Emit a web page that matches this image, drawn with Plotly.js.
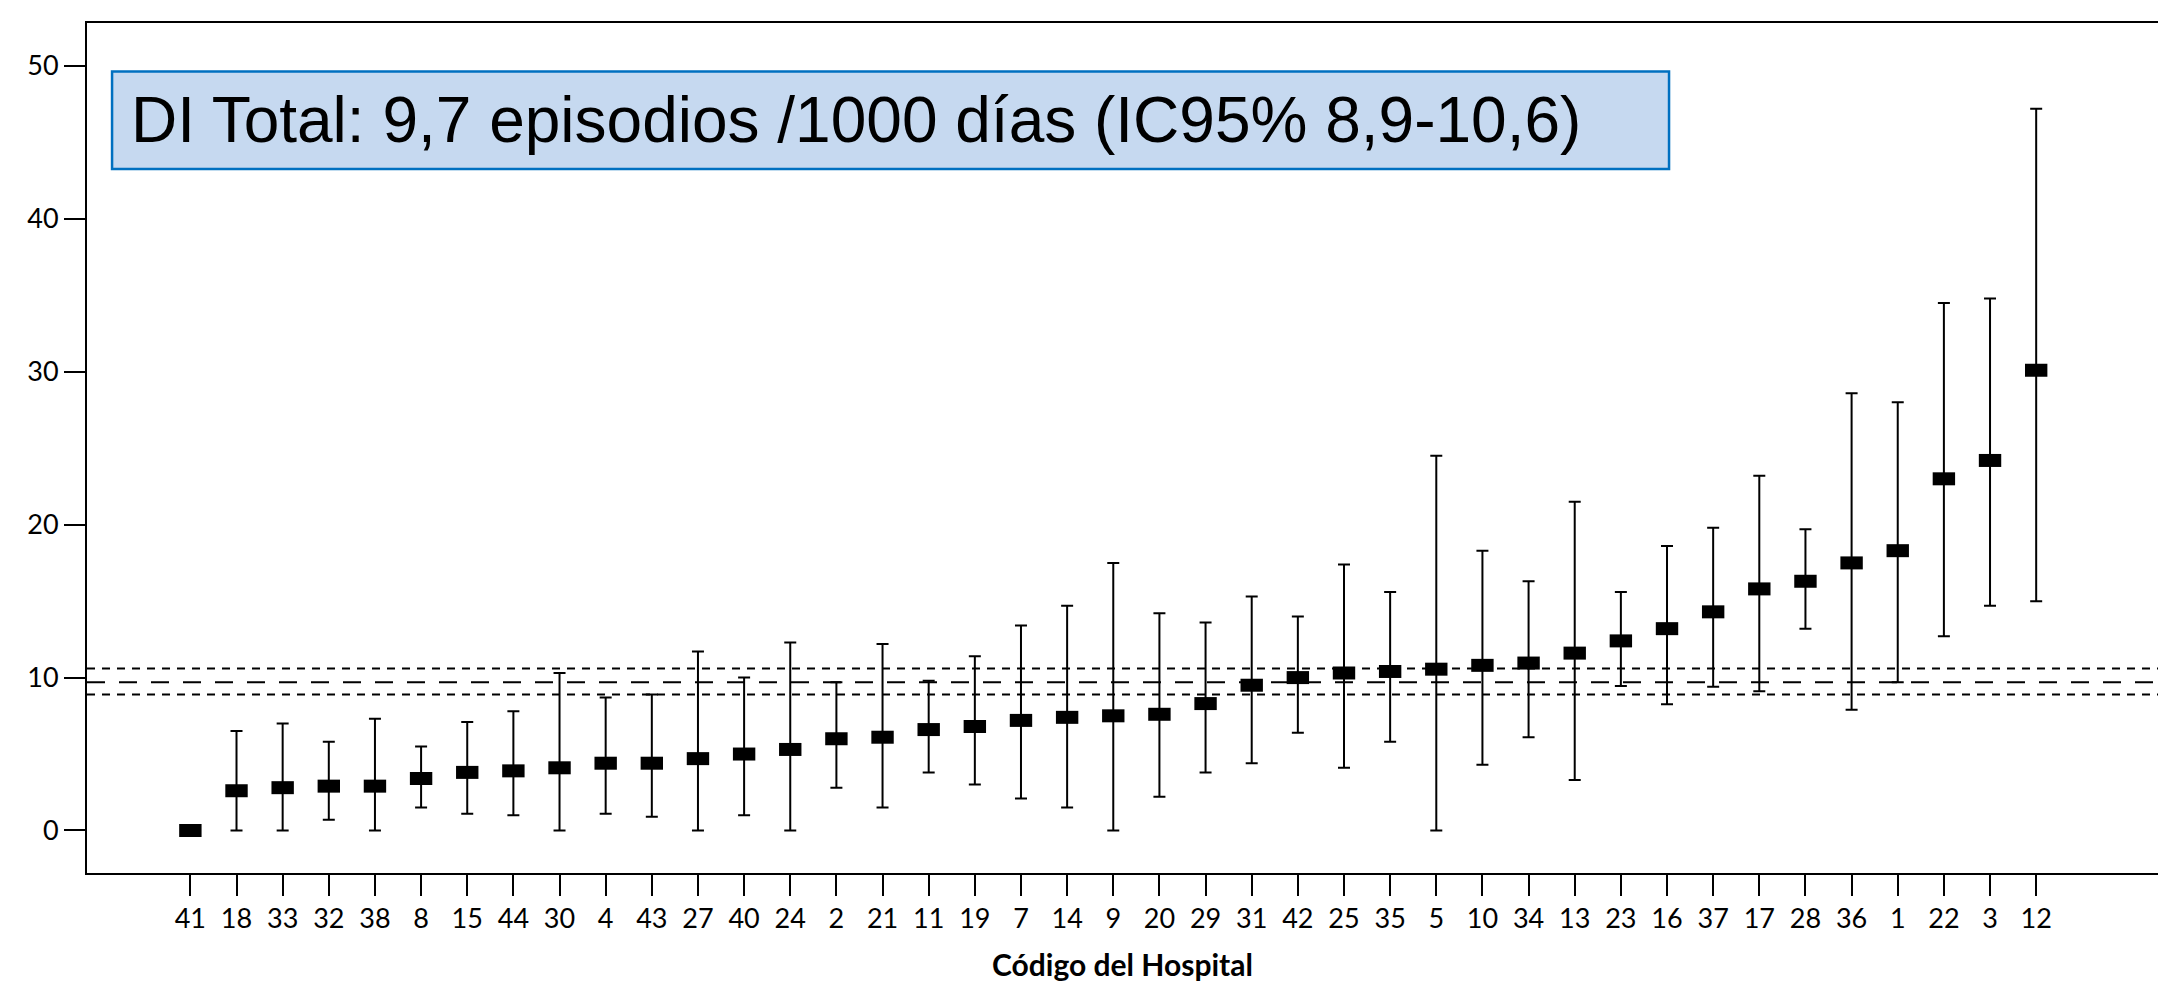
<!DOCTYPE html>
<html>
<head>
<meta charset="utf-8">
<script src="https://cdn.plot.ly/plotly-3.0.1.min.js"></script>
<style>
  html, body { margin: 0; padding: 0; background: #ffffff; }
  #chart { width: 2158px; height: 982px; }
</style>
</head>
<body>
<div id="chart"></div>
<script>
// Hospital codes (x categories), ordered as in the chart
const hospitals = ['41','18','33','32','38','8','15','44','30','4','43','27','40','24','2','21','11','19','7','14','9','20','29','31','42','25','35','5','10','34','13','23','16','37','17','28','36','1','22','3','12'];
// Incidence density (episodes / 1000 days) per hospital
const rate  = [0, 2.6, 2.8, 2.9, 2.9, 3.4, 3.8, 3.9, 4.1, 4.4, 4.4, 4.7, 5.0, 5.3, 6.0, 6.1, 6.6, 6.8, 7.2, 7.4, 7.5, 7.6, 8.3, 9.5, 10.0, 10.3, 10.4, 10.55, 10.8, 10.95, 11.6, 12.4, 13.2, 14.3, 15.8, 16.3, 17.5, 18.3, 23.0, 24.2, 30.1];
// 95% CI lower / upper limits
const lower = [0, 0, 0, 0.7, 0, 1.5, 1.1, 1.0, 0, 1.1, 0.9, 0, 1.0, 0, 2.8, 1.5, 3.8, 3.0, 2.1, 1.5, 0, 2.2, 3.8, 4.4, 6.4, 4.1, 5.8, 0, 4.3, 6.1, 3.3, 9.45, 8.25, 9.4, 9.1, 13.2, 7.9, 9.7, 12.7, 14.7, 15.0];
const upper = [0, 6.5, 7.0, 5.8, 7.3, 5.5, 7.1, 7.8, 10.3, 8.7, 8.9, 11.7, 10.0, 12.3, 9.7, 12.2, 9.8, 11.4, 13.4, 14.7, 17.5, 14.2, 13.6, 15.3, 14.0, 17.4, 15.6, 24.5, 18.3, 16.3, 21.5, 15.6, 18.6, 19.8, 23.2, 19.7, 28.6, 28.0, 34.5, 34.8, 47.2];
// Overall DI and its 95% CI
const totalRate = 9.7;
const totalCI = [8.9, 10.6];
const yTicks = [0, 10, 20, 30, 40, 50];
const boxText = 'DI Total: 9,7 episodios /1000 días (IC95% 8,9-10,6)';
const xTitle = 'Código del Hospital';

const errPlus  = upper.map((u, i) => u - rate[i]);
const errMinus = rate.map((r, i) => r - lower[i]);

const trace = {
  type: 'scatter',
  mode: 'markers',
  x: hospitals,
  y: rate,
  marker: { symbol: 'line-ew', size: 16, color: '#000000', line: { width: 13, color: '#000000' } },
  error_y: {
    type: 'data', symmetric: false,
    array: errPlus, arrayminus: errMinus,
    color: '#000000', thickness: 2, width: 6
  },
  hoverinfo: 'x+y',
  showlegend: false
};

const refLine = (y, dash) => ({
  type: 'line', xref: 'paper', x0: 0, x1: 1, yref: 'y', y0: y, y1: y,
  line: { color: '#000000', width: 2, dash: dash }, layer: 'below'
});

const layout = {
  width: 2158, height: 982,
  margin: { l: 87, r: 0, t: 23, b: 109, pad: 0 },
  paper_bgcolor: '#ffffff', plot_bgcolor: '#ffffff',
  showlegend: false,
  xaxis: {
    type: 'category',
    range: [-2.24, 42.64],
    showline: true, linecolor: '#000000', linewidth: 2, mirror: true,
    ticks: 'outside', ticklen: 21, tickwidth: 2, tickcolor: '#000000',
    showgrid: false, zeroline: false,
    tickfont: { family: 'Lato, sans-serif', size: 27, color: '#000000' },
    title: { text: xTitle, standoff: 22, font: { family: 'Lato, sans-serif', size: 30, color: '#000000', weight: 'bold' } },
    automargin: false
  },
  yaxis: {
    range: [-2.78, 52.81],
    tickvals: yTicks,
    ticktext: yTicks.map(String),
    showline: true, linecolor: '#000000', linewidth: 2, mirror: false,
    ticks: 'outside', ticklen: 21, tickwidth: 2, tickcolor: '#000000',
    showgrid: false, zeroline: false,
    tickfont: { family: 'Lato, sans-serif', size: 27, color: '#000000' },
    automargin: false
  },
  shapes: [
    refLine(totalCI[1], '8px,7px'),
    refLine(totalRate, '18px,14px'),
    refLine(totalCI[0], '8px,7px'),
    {
      type: 'rect', xref: 'paper', yref: 'paper',
      x0: 0.0121, x1: 0.7639, y0: 0.8282, y1: 0.9428,
      fillcolor: '#C6D9F0', line: { color: '#0070C0', width: 2.5 }, layer: 'above'
    }
  ],
  annotations: [
    {
      xref: 'paper', yref: 'paper', x: 0.0203, y: 0.8862,
      xanchor: 'left', yanchor: 'middle', showarrow: false,
      text: boxText,
      font: { family: 'Liberation Sans, Arial, sans-serif', size: 64, color: '#000000' }
    }
  ]
};

Plotly.newPlot('chart', [trace], layout, { displayModeBar: false, staticPlot: true });
</script>
</body>
</html>
